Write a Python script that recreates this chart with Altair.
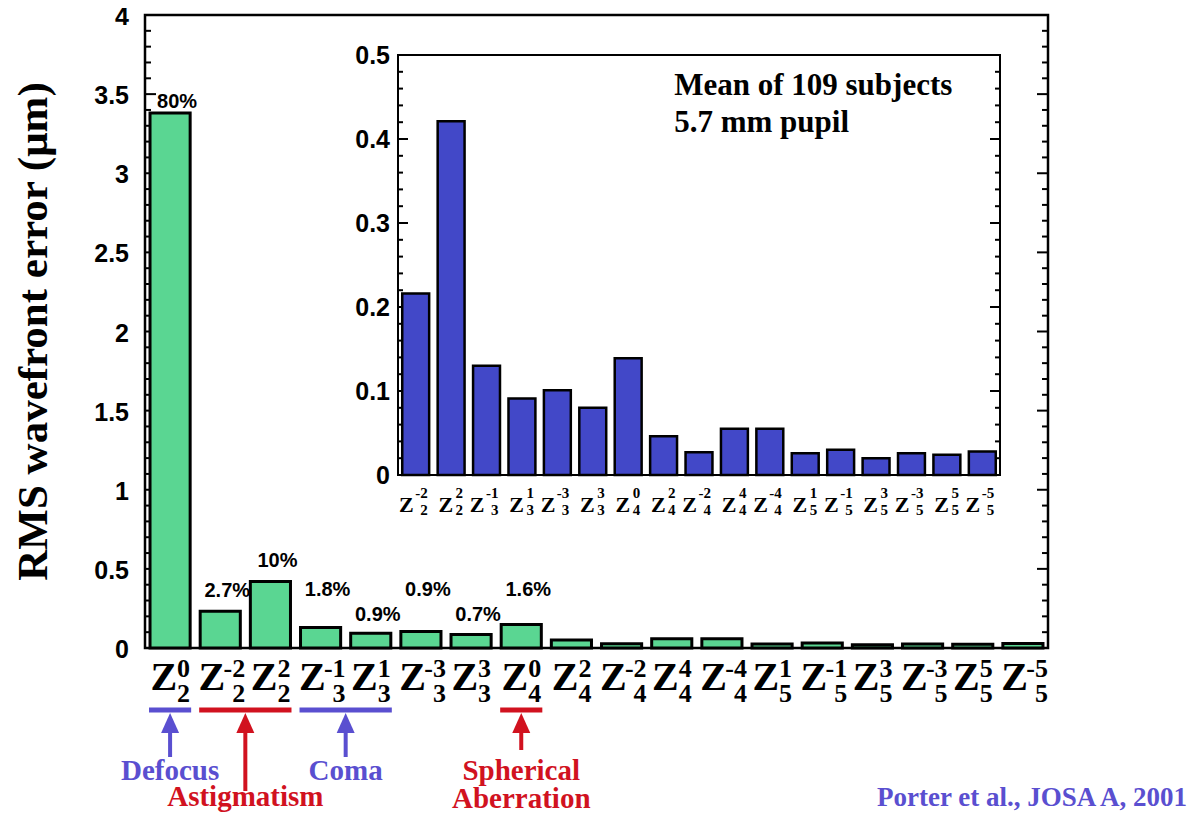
import altair as alt
import pandas as pd

# ------------------------------------------------------------------ data
term_n = [2, 2, 2, 3, 3, 3, 3, 4, 4, 4, 4, 4, 5, 5, 5, 5, 5, 5]
term_m = [0, -2, 2, -1, 1, -3, 3, 0, 2, -2, 4, -4, 1, -1, 3, -3, 5, -5]
main_rms = [3.38, 0.233, 0.42, 0.13, 0.093, 0.105, 0.085, 0.148, 0.05, 0.027,
            0.058, 0.058, 0.026, 0.032, 0.021, 0.026, 0.024, 0.028]
inset_rms = [0.216, 0.421, 0.130, 0.091, 0.101, 0.080, 0.139, 0.046, 0.027,
             0.055, 0.055, 0.026, 0.030, 0.020, 0.026, 0.024, 0.028]
pct_text = ["80%", "2.7%", "10%", "1.8%", "0.9%", "0.9%", "0.7%", "1.6%"]
main_ticks = [0, 0.5, 1, 1.5, 2, 2.5, 3, 3.5, 4]
inset_ticks = [0, 0.1, 0.2, 0.3, 0.4, 0.5]
groups = ["Defocus", "Astigmatism", "Coma", "Spherical Aberration"]
group_first = [0, 1, 3, 7]
group_last = [0, 2, 4, 7]
inset_note = "Mean of 109 subjects\n5.7 mm pupil"
source_note = "Porter et al., JOSA A, 2001"
y_title = "RMS wavefront error (μm)"

# ------------------------------------------------------------------ layout / style
W, H = 903, 633
SERIF = "Liberation Serif"
SANS = "Liberation Sans"
GREEN = "#5ad692"
BLUE = "#4248c8"
ANN_BLUE = "#5a4fd0"
ANN_RED = "#d1121f"
group_color = [ANN_BLUE, ANN_RED, ANN_BLUE, ANN_RED]
pct_level = [3.41, 0.32, 0.51, 0.33, 0.17, 0.33, 0.17, 0.33]   # label anchors (µm)
ann_text_dy = {"Astigmatism": 158}
ann_shaft_end = {"Astigmatism": 143, "Spherical Aberration": 102}

n_main = len(term_n)
n_inset = len(inset_rms)
XS = alt.Scale(domain=[-0.5, n_main - 0.5], range=[0, W], nice=False, zero=False)
YS = alt.Scale(domain=[0, 4], range=[H, 0], nice=False, zero=False)
XI = alt.Scale(domain=[-0.5, n_inset - 0.5], range=[253, 855], nice=False, zero=False)
YI = alt.Scale(domain=[0, 0.5], range=[460, 40], nice=False, zero=False)

main_df = pd.DataFrame({"i": list(range(n_main)), "n": term_n, "m": term_m, "rms": main_rms})
main_df["sup"] = main_df["m"].astype(str)
main_df["sub"] = main_df["n"].astype(str)
main_df["neg"] = main_df["m"] < 0

inset_df = main_df.iloc[1:].copy().reset_index(drop=True)
inset_df["i"] = list(range(n_inset))
inset_df["rms"] = inset_rms

one = pd.DataFrame({"k": [0]})


def bars(df, xs, ys, color, half, sw):
    return alt.Chart(df).transform_calculate(
        x0=f"datum.i - {half}", x1=f"datum.i + {half}"
    ).mark_rect(fill=color, stroke="black", strokeWidth=sw).encode(
        x=alt.X("x0:Q", scale=xs, axis=None),
        x2="x1:Q",
        y=alt.Y("rms:Q", scale=ys, axis=None),
        y2=alt.Y2Datum(0),
    )


def ticks(values, xs, ys, xpos, length):
    df = pd.DataFrame({"v": values})
    return alt.Chart(df).mark_rule(color="black", strokeWidth=2, x2Offset=length).encode(
        x=alt.XDatum(xpos, scale=xs, axis=None),
        x2=alt.X2Datum(xpos),
        y=alt.Y("v:Q", scale=ys, axis=None),
    )


def ytick_labels(values, xs, ys, xpos, dx, dy, size):
    df = pd.DataFrame({"v": values, "t": [f"{v:g}" for v in values]})
    return alt.Chart(df).mark_text(
        align="right", baseline="middle", dx=dx, dy=dy, font=SANS, fontWeight="bold",
        fontSize=size, color="black"
    ).encode(
        x=alt.XDatum(xpos, scale=xs, axis=None),
        y=alt.Y("v:Q", scale=ys, axis=None),
        text="t:N",
    )


def zlabels(df, xs, ys, zsize, ssize, zdx, sdx, dy_z, dy_sup, dy_sub):
    out = []
    for neg in (False, True):
        part = df[df["neg"] == neg]
        base = alt.Chart(part).encode(
            x=alt.X("i:Q", scale=xs, axis=None),
            y=alt.YDatum(0, scale=ys, axis=None),
        )
        common = dict(align="right", baseline="alphabetic", font=SERIF,
                      fontWeight="bold", color="black")
        out.append(base.mark_text(text="Z", dx=zdx[neg], dy=dy_z, fontSize=zsize, **common))
        out.append(base.mark_text(dx=sdx[neg], dy=dy_sup, fontSize=ssize, **common).encode(text="sup:N"))
        out.append(base.mark_text(dx=sdx[neg], dy=dy_sub, fontSize=ssize, **common).encode(text="sub:N"))
    return out


layers = []

# ---- main panel
minor_main = [round(k * 0.1, 1) for k in range(41) if k % 5]
layers += [
    ticks(main_ticks, XS, YS, -0.5, 11),
    ticks(minor_main, XS, YS, -0.5, 6),
    ticks(main_ticks, XS, YS, n_main - 0.5, -11),
    ticks(minor_main, XS, YS, n_main - 0.5, -6),
    ytick_labels(main_ticks, XS, YS, -0.5, -16, 2, 25),
    bars(main_df, XS, YS, GREEN, 0.4, 3),
]

pct_df = pd.DataFrame({"i": list(range(len(pct_text))), "t": pct_text, "lvl": pct_level})
layers.append(
    alt.Chart(pct_df).mark_text(
        align="center", baseline="alphabetic", dx=7, font=SANS, fontWeight="bold",
        fontSize=20, color="black"
    ).encode(
        x=alt.X("i:Q", scale=XS, axis=None),
        y=alt.Y("lvl:Q", scale=YS, axis=None),
        text="t:N",
    )
)
layers += zlabels(main_df, XS, YS, 40, 26,
                  zdx={False: 7, True: 5}, sdx={False: 20, True: 25},
                  dy_z=42, dy_sup=29, dy_sub=54)

# y title
layers.append(
    alt.Chart(one).mark_text(
        text=y_title, angle=270, align="center", baseline="alphabetic",
        font=SERIF, fontWeight="bold", fontSize=43, color="black"
    ).encode(x=alt.value(-98), y=alt.value(H / 2))
)

# ---- inset panel
minor_inset = [round(k * 0.02, 2) for k in range(26) if k % 5]
layers += [
    alt.Chart(one).mark_rect(fill="white", stroke="black", strokeWidth=2).encode(
        x=alt.XDatum(-0.5, scale=XI, axis=None),
        x2=alt.X2Datum(n_inset - 0.5),
        y=alt.YDatum(0, scale=YI, axis=None),
        y2=alt.Y2Datum(0.5),
    ),
    ticks(inset_ticks, XI, YI, -0.5, 10),
    ticks(minor_inset, XI, YI, -0.5, 5),
    ticks(inset_ticks, XI, YI, n_inset - 0.5, -10),
    ticks(minor_inset, XI, YI, n_inset - 0.5, -5),
    ytick_labels(inset_ticks, XI, YI, -0.5, -8, 1, 25),
    bars(inset_df, XI, YI, BLUE, 0.38, 2.5),
]
layers += zlabels(inset_df, XI, YI, 22, 15,
                  zdx={False: 2, True: -2}, sdx={False: 12, True: 12},
                  dy_z=37, dy_sup=23, dy_sub=40)
layers.append(
    alt.Chart(one).mark_text(
        text=inset_note, lineBreak="\n", lineHeight=37, align="left", baseline="alphabetic",
        font=SERIF, fontWeight="bold", fontSize=31, color="black"
    ).encode(
        x=alt.XDatum(7.3, scale=XI, axis=None),
        y=alt.YDatum(0.452, scale=YI, axis=None),
    )
)

# ---- aberration annotations under the axis
for g, a, b, c in zip(groups, group_first, group_last, group_color):
    gdf = pd.DataFrame({"g": [g], "a": [a], "b": [b]})
    base = alt.Chart(gdf).transform_calculate(
        x0="datum.a - 0.42", x1="datum.b + 0.42", xc="(datum.a + datum.b) / 2"
    )
    ypos = alt.YDatum(0, scale=YS, axis=None)
    layers += [
        base.mark_rule(color=c, strokeWidth=5, yOffset=62).encode(
            x=alt.X("x0:Q", scale=XS, axis=None), x2="x1:Q", y=ypos),
        base.mark_rule(color=c, strokeWidth=4, yOffset=82,
                       y2Offset=ann_shaft_end.get(g, 109)).encode(
            x=alt.X("xc:Q", scale=XS, axis=None), y=ypos, y2=alt.Y2Datum(0)),
        base.mark_point(shape="M-0.9,1L0,-1L0.9,1Z", size=400, filled=True,
                        color=c, opacity=1, strokeWidth=0, yOffset=75).encode(
            x=alt.X("xc:Q", scale=XS, axis=None), y=ypos),
        base.mark_text(align="center", baseline="alphabetic", lineBreak=" ", lineHeight=28,
                       dy=ann_text_dy.get(g, 132), font=SERIF, fontWeight="bold",
                       fontSize=29, color=c).encode(
            x=alt.X("xc:Q", scale=XS, axis=None), y=ypos, text="g:N"),
    ]

layers.append(
    alt.Chart(one).mark_text(
        text=source_note, align="right", baseline="alphabetic", dx=139, dy=158,
        font=SERIF, fontWeight="bold", fontSize=27, color=ANN_BLUE
    ).encode(
        x=alt.XDatum(n_main - 0.5, scale=XS, axis=None),
        y=alt.YDatum(0, scale=YS, axis=None),
    )
)

chart = alt.layer(*layers).resolve_scale(
    x="independent", y="independent"
).properties(
    width=W, height=H,
    padding={"left": 137, "top": 7, "right": 140, "bottom": 164},
    autosize=alt.AutoSizeParams(type="none"),
    background="white",
).configure_view(stroke="black", strokeWidth=2.5)

chart.save("out.html", embed_options={"renderer": "svg", "actions": False})
